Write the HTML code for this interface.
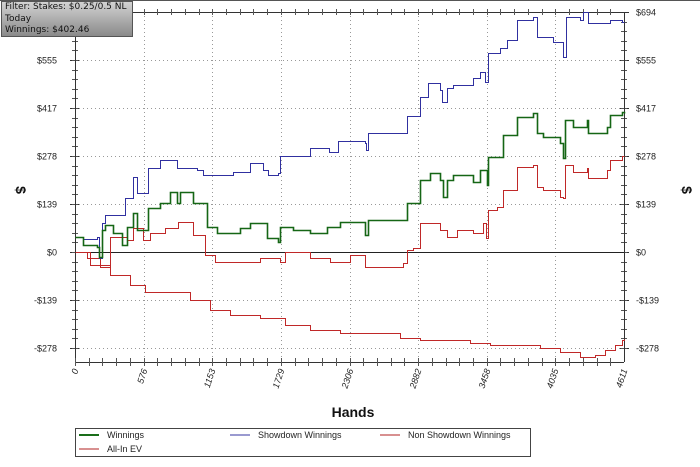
<!DOCTYPE html>
<html><head><meta charset="utf-8"><style>
body{margin:0;width:700px;height:467px;background:#fff;overflow:hidden;font-family:"Liberation Sans",sans-serif}
svg{position:absolute;left:0;top:0}
#info{position:absolute;left:1px;top:1px;width:132px;height:36px;background:linear-gradient(#d2d2d2,#8a8a8a);border:1px solid #555;font-family:"DejaVu Sans",sans-serif;font-size:9px;line-height:11.5px;padding:0 3px;box-sizing:border-box;color:#111}
</style></head><body>
<svg id="chart" width="700" height="467"></svg>
<div id="info">Filter: Stakes: $0.25/0.5 NL<br>Today<br>Winnings: $402.46</div>
<script>
const xTicks=[0,576,1153,1729,2306,2882,3458,4035,4611];
const yTicks=[-278,-139,0,139,278,417,555,694];
const yLabels=["-$278","-$139","$0","$139","$278","$417","$555","$694"];
const winHands=[0,67,185,202,227,252,319,395,437,487,521,571,613,714,798,857,882,991,1109,1193,1386,1470,1613,1705,1722,1831,1974,2117,2226,2436,2461,2755,2789,2873,2898,2982,3066,3091,3125,3175,3343,3402,3461,3469,3545,3595,3679,3713,3847,3881,3931,4074,4099,4116,4183,4301,4309,4469,4494,4595,4611];
const winVals=[43,20,14,-14,64,78,55,20,72,113,64,64,127,142,174,142,174,142,72,55,70,84,41,29,72,64,55,72,87,49,93,93,142,142,209,229,209,159,209,223,203,237,194,275,275,339,339,391,403,345,333,316,272,382,362,382,345,362,397,405,402];
const sdHands=[0,67,185,202,227,252,420,487,521,605,613,714,857,1025,1075,1243,1327,1470,1579,1621,1705,1722,1949,1974,2133,2209,2436,2444,2461,2755,2789,2873,2898,2966,3066,3083,3125,3175,3343,3402,3444,3469,3570,3629,3713,3847,3881,4015,4099,4124,4242,4267,4309,4494,4595,4611];
const sdVals=[43,38,43,-17,84,107,156,217,171,171,243,267,243,237,223,223,232,258,237,223,229,278,278,301,290,321,316,295,345,345,394,394,449,490,469,434,475,484,504,521,492,576,591,614,672,681,623,608,565,681,672,694,663,672,666,666];
const nsdHands=[0,101,210,294,437,487,571,630,756,865,991,1092,1176,1386,1554,1722,1764,1974,2142,2310,2436,2587,2755,2789,2839,2898,2982,3066,3125,3209,3343,3427,3452,3469,3545,3595,3679,3713,3847,3881,3931,4074,4099,4116,4183,4301,4309,4469,4494,4595,4611];
const nsdVals=[0,-17,-43,43,35,70,35,55,70,87,49,-9,-29,-29,-17,-29,0,-17,-29,-9,-43,-43,-32,6,12,84,84,64,43,64,55,84,41,122,130,180,180,246,252,188,180,159,156,252,232,243,214,237,266,278,278];
const evHands=[0,126,294,462,588,756,966,1134,1302,1554,1764,1974,2226,2478,2730,2898,3066,3318,3486,3654,3906,4074,4242,4368,4452,4536,4595,4611];
const evVals=[0,-38,-67,-96,-116,-116,-139,-168,-182,-191,-211,-226,-235,-235,-249,-255,-255,-264,-269,-269,-278,-290,-304,-298,-284,-269,-255,-252];

const L=75,R=624,T=12,B=362;
const X=h=>Math.round(L+h/4611*(R-L))+0.5;
const Y=v=>Math.round(252-v*48/139)+0.5;
const svg=document.getElementById('chart');
const NS='http://www.w3.org/2000/svg';
function mk(tag,attrs,parent){const e=document.createElementNS(NS,tag);for(const k in attrs)e.setAttribute(k,attrs[k]);(parent||svg).appendChild(e);return e;}

mk('line',{x1:0,y1:0.5,x2:700,y2:0.5,stroke:'#555','stroke-width':1});
xTicks.forEach(t=>{const g=mk('line',{x1:X(t),y1:T,x2:X(t),y2:B,stroke:'#999','stroke-dasharray':'1,3'});

});
yTicks.forEach((t,i)=>{if(t!==0){const g=mk('line',{x1:L,y1:Y(t),x2:R,y2:Y(t),stroke:'#999','stroke-dasharray':'1,3'});

}
const a=mk('text',{x:57,y:Y(t)+3,'text-anchor':'end','font-size':9,fill:'#222'});a.textContent=yLabels[i];


const b=mk('text',{x:636,y:Y(t)+3,'font-size':9,fill:'#222'});b.textContent=yLabels[i];


mk('line',{x1:L-5,y1:Y(t),x2:L+4,y2:Y(t),stroke:'#333'});
mk('line',{x1:R-4,y1:Y(t),x2:R+5,y2:Y(t),stroke:'#333'});});
for(let v=-278;v<=694;v+=139/5){mk('line',{x1:L-3,y1:Y(v),x2:L+3,y2:Y(v),stroke:'#555'});mk('line',{x1:R-3,y1:Y(v),x2:R+3,y2:Y(v),stroke:'#555'});}
mk('line',{x1:L+0.5,y1:T,x2:L+0.5,y2:B,stroke:'#333'});
mk('line',{x1:R+0.5,y1:T,x2:R+0.5,y2:B,stroke:'#333'});
mk('line',{x1:L,y1:B+0.5,x2:R,y2:B+0.5,stroke:'#333'});
mk('line',{x1:L,y1:T+0.5,x2:R,y2:T+0.5,stroke:'#333'});
const z=mk('line',{x1:L,y1:Y(0),x2:R,y2:Y(0),stroke:'#222'});


for(let h=0;h<=4611;h+=4611/40){mk('line',{x1:X(h),y1:B-4,x2:X(h),y2:B+4,stroke:'#555'});mk('line',{x1:X(h),y1:T-3,x2:X(h),y2:T+3,stroke:'#555'});}
xTicks.forEach(t=>{const tx=mk('text',{transform:`translate(${X(t)+3},${B+8}) rotate(-72)`,'text-anchor':'end','font-size':9,'font-style':'italic',fill:'#222'});tx.textContent=t;

});
function series(hs,vs,color,w,name){let d='M'+X(hs[0])+','+Y(vs[0]);
for(let i=1;i<hs.length;i++){d+=' H'+X(hs[i])+' V'+Y(vs[i]);}
const p=mk('path',{d:d,fill:'none',stroke:color,'stroke-width':w});

}
series(evHands,evVals,'#c02828',1,'all-in-ev-line');
series(nsdHands,nsdVals,'#c02828',1,'non-showdown-winnings-line');
series(sdHands,sdVals,'#3030a0',1,'showdown-winnings-line');
series(winHands,winVals,'#156615',1.6,'winnings-line');
const ht=mk('text',{x:353,y:417,'text-anchor':'middle','font-size':14,'font-weight':'bold',fill:'#111'});ht.textContent='Hands';


[[16,'y-axis-title-left'],[682,'y-axis-title-right']].forEach(([x,n])=>{const t=mk('text',{transform:`translate(${x},190) rotate(90)`,'text-anchor':'middle','font-size':14,'font-weight':'bold',fill:'#111'});t.textContent='$';

});
const lg=mk('rect',{x:75.5,y:428.5,width:455,height:28,fill:'#fff',stroke:'#444'});


[['Winnings','#1a6e1a',79,435],['Showdown Winnings','#9a9ad0',230,435],['Non Showdown Winnings','#d89090',380,435],['All-In EV','#d89090',79,449]].forEach(([t,c,x,y])=>{
mk('line',{x1:x,y1:y,x2:x+20,y2:y,stroke:c,'stroke-width':2});
const e=mk('text',{x:x+28,y:y+3,'font-size':9,fill:'#222'});e.textContent=t;

});
</script>
</body></html>
